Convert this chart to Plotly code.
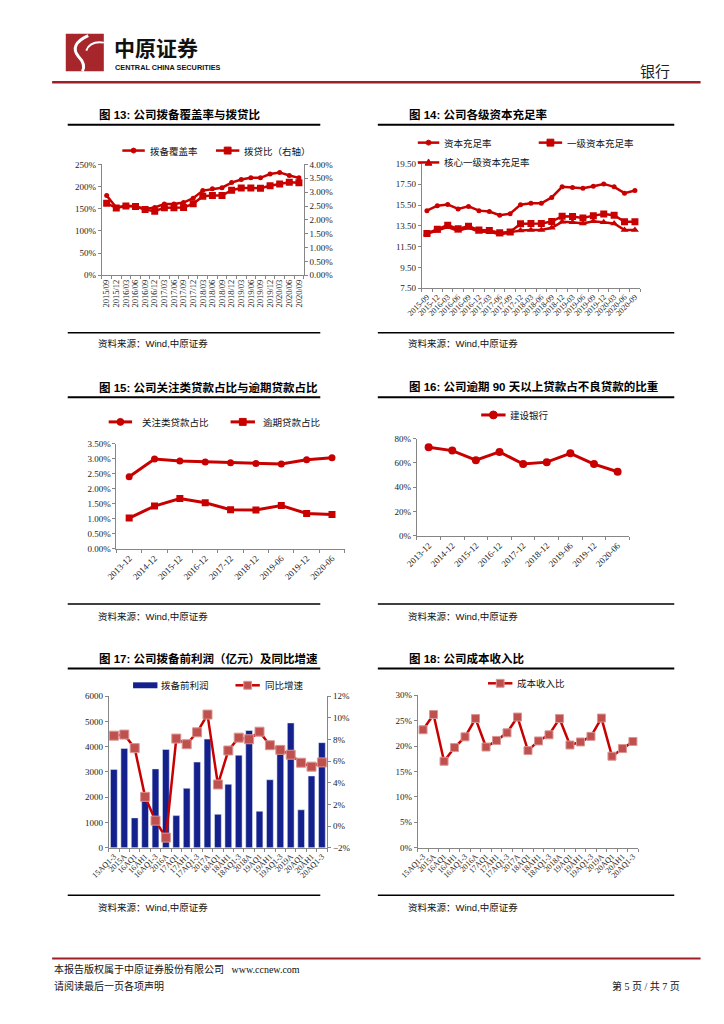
import plotly.graph_objects as go

W, H = 724, 1024

# ---------------- data ----------------
cats13 = ["2015/09", "2015/12", "2016/03", "2016/06", "2016/09", "2016/12", "2017/03",
          "2017/06", "2017/09", "2017/12", "2018/03", "2018/06", "2018/09", "2018/12",
          "2019/03", "2019/06", "2019/09", "2019/12", "2020/03", "2020/06", "2020/09"]
coverage = [179.7, 153, 156.8, 156, 149.4, 153, 161, 161, 164, 174, 191, 195, 197.5,
            209, 216, 219.7, 219.7, 228.5, 232, 225, 219.7]
loan_prov = [2.60, 2.43, 2.50, 2.48, 2.37, 2.31, 2.44, 2.44, 2.45, 2.58, 2.85, 2.88,
             2.88, 3.07, 3.15, 3.15, 3.14, 3.23, 3.29, 3.36, 3.34]

cats14 = ["2015-09", "2015-12", "2016-03", "2016-06", "2016-09", "2016-12", "2017-03",
          "2017-06", "2017-09", "2017-12", "2018-03", "2018-06", "2018-09", "2018-12",
          "2019-03", "2019-06", "2019-09", "2019-12", "2020-03", "2020-06", "2020-09"]
car = [14.96, 15.44, 15.56, 15.12, 15.37, 14.96, 14.87, 14.52, 14.67, 15.53, 15.66,
       15.66, 16.23, 17.25, 17.18, 17.12, 17.31, 17.53, 17.25, 16.64, 16.90]
tier1 = [12.77, 13.18, 13.56, 13.21, 13.47, 13.09, 13.06, 12.83, 12.90, 13.69, 13.72,
         13.72, 13.91, 14.42, 14.39, 14.26, 14.48, 14.64, 14.52, 13.88, 13.88]
core_tier1 = [12.74, 13.02, 13.37, 13.02, 13.34, 12.93, 12.96, 12.67, 12.83, 13.06, 13.09,
              13.09, 13.31, 13.88, 13.85, 13.72, 13.94, 13.85, 13.72, 13.09, 13.09]

cats15 = ["2013-12", "2014-12", "2015-12", "2016-12", "2017-12", "2018-12", "2019-06",
          "2019-12", "2020-06"]
special_mention = [2.40, 2.99, 2.92, 2.89, 2.86, 2.84, 2.82, 2.96, 3.03]
overdue = [1.02, 1.42, 1.67, 1.53, 1.30, 1.29, 1.44, 1.17, 1.14]

cats16 = cats15
overdue90_ratio = [72.9, 70.2, 62.3, 69.1, 59.1, 60.7, 68.0, 59.1, 52.8]

cats17 = ["15AQ1-3", "2015A", "16AQ1", "16AH1", "16AQ1-3", "2016A", "17AQ1", "17AH1",
          "17AQ1-3", "2017A", "18AQ1", "18AH1", "18AQ1-3", "2018A", "19AQ1", "19AH1",
          "19AQ1-3", "2019A", "20AQ1", "20AH1", "20AQ1-3"]
ppop = [3100, 3930, 1180, 1950, 3120, 3890, 1270, 2350, 3390, 4300, 1320, 2510, 3660,
        4640, 1440, 2690, 3800, 4940, 1500, 2840, 4160]
ppop_yoy = [8.35, 8.45, 7.2, 2.7, 0.5, -1.07, 8.08, 7.56, 8.66, 10.3, 3.84, 6.98, 8.17,
            8.02, 8.72, 7.47, 7.04, 6.59, 5.85, 5.49, 5.88]

cats18 = cats17
cost_income = [23.2, 26.2, 17.0, 19.7, 21.8, 25.4, 19.8, 21.1, 22.6, 25.7, 19.1, 21.0,
               22.2, 25.4, 20.2, 20.8, 21.9, 25.5, 18.0, 19.5, 20.9]

# ---------------- styling helpers ----------------
RED = "#C80000"
NAVY = "#14218C"
SQ_FILL = "#C0504D"
AX = "#868686"
TICKFONT = dict(family="Liberation Serif, Noto Sans CJK SC", size=9, color="#222")
CJK = "Noto Sans CJK SC"


def fx(x):
    return x / W


def fy(y):
    return 1 - y / H


def dom_x(a, b):
    return [fx(a), fx(b)]


def dom_y(top, bottom):
    return [fy(bottom), fy(top)]


def xaxis(a, b, anchor, angle, cats, size=8.5):
    return dict(domain=dom_x(a, b), anchor=anchor, type="category", showgrid=False,
                zeroline=False, showline=True, linecolor=AX, linewidth=1,
                ticks="outside", ticklen=3, tickcolor=AX, tickson="boundaries",
                tickmode="array", tickvals=cats, ticktext=cats,
                range=[-0.5, len(cats) - 0.5],
                tickangle=angle, tickfont=dict(TICKFONT, size=size), fixedrange=True)


def yaxis(top, bottom, anchor, rng, **kw):
    d = dict(domain=dom_y(top, bottom), anchor=anchor, range=rng, showgrid=False,
             zeroline=False, showline=True, linecolor=AX, linewidth=1,
             ticks="outside", ticklen=3, tickcolor=AX, tickfont=TICKFONT,
             fixedrange=True)
    d.update(kw)
    return d


fig = go.Figure()

# ---------------- chart 13 ----------------
fig.add_trace(go.Scatter(x=cats13, y=coverage, xaxis="x", yaxis="y", mode="lines+markers",
                         line=dict(color=RED, width=2.5),
                         marker=dict(symbol="circle", size=5, color=RED)))
fig.add_trace(go.Scatter(x=cats13, y=loan_prov, xaxis="x", yaxis="y2", mode="lines+markers",
                         line=dict(color=RED, width=2.5),
                         marker=dict(symbol="square", size=7, color=RED)))

# ---------------- chart 14 ----------------
for vals, sym, sz in [(car, "circle", 5), (tier1, "square", 7), (core_tier1, "triangle-up", 7)]:
    fig.add_trace(go.Scatter(x=cats14, y=vals, xaxis="x2", yaxis="y3", mode="lines+markers",
                             line=dict(color=RED, width=2.5),
                             marker=dict(symbol=sym, size=sz, color=RED)))

# ---------------- chart 15 ----------------
fig.add_trace(go.Scatter(x=cats15, y=special_mention, xaxis="x3", yaxis="y4",
                         mode="lines+markers", line=dict(color=RED, width=3),
                         marker=dict(symbol="circle", size=7, color=RED)))
fig.add_trace(go.Scatter(x=cats15, y=overdue, xaxis="x3", yaxis="y4",
                         mode="lines+markers", line=dict(color=RED, width=3),
                         marker=dict(symbol="square", size=7, color=RED)))

# ---------------- chart 16 ----------------
fig.add_trace(go.Scatter(x=cats16, y=overdue90_ratio, xaxis="x4", yaxis="y5",
                         mode="lines+markers", line=dict(color=RED, width=3),
                         marker=dict(symbol="circle", size=8, color=RED)))

# ---------------- chart 17 ----------------
fig.add_trace(go.Bar(x=cats17, y=ppop, xaxis="x5", yaxis="y6", marker_color=NAVY,
                     width=0.65))
fig.add_trace(go.Scatter(x=cats17, y=ppop_yoy, xaxis="x5", yaxis="y7", mode="lines+markers",
                         line=dict(color=RED, width=2.5),
                         marker=dict(symbol="square", size=9, color=SQ_FILL,
                                     line=dict(color="#D99694", width=1))))

# ---------------- chart 18 ----------------
fig.add_trace(go.Scatter(x=cats18, y=cost_income, xaxis="x6", yaxis="y8", mode="lines+markers",
                         line=dict(color=RED, width=2.5),
                         marker=dict(symbol="square", size=8, color=SQ_FILL,
                                     line=dict(color="#D99694", width=1))))

layout = dict(
    width=W, height=H, margin=dict(l=0, r=0, t=0, b=0), showlegend=False,
    paper_bgcolor="white", plot_bgcolor="white",
    xaxis=xaxis(86, 293, "y", -90, cats13),
    yaxis=yaxis(161, 273, "x", [0, 250], dtick=50, ticksuffix="%"),
    yaxis2=yaxis(161, 273, "x", [0, 4], overlaying="y", side="right", dtick=0.5,
                 tickformat=".2f", ticksuffix="%"),
    xaxis2=xaxis(414, 638, "y3", -45, cats14, 8),
    yaxis3=yaxis(160, 286, "x2", [7.5, 19.5],
                 tickvals=[7.5, 9.5, 11.5, 13.5, 15.5, 17.5, 19.5],
                 tickformat=".2f", ticksuffix="%"),
    xaxis3=xaxis(101, 335, "y4", -45, cats15, 9),
    yaxis4=yaxis(443, 549, "x3", [0, 3.5], dtick=0.5, tickformat=".2f", ticksuffix="%"),
    xaxis4=xaxis(409, 627, "y5", -45, cats16, 9),
    yaxis5=yaxis(438, 536, "x4", [0, 80], dtick=20, ticksuffix="%"),
    xaxis5=xaxis(93, 317, "y6", -45, cats17, 8),
    yaxis6=yaxis(698, 851, "x5", [0, 6000], dtick=1000),
    yaxis7=yaxis(698, 851, "x5", [-2, 12], overlaying="y6", side="right", dtick=2,
                 ticksuffix="%"),
    xaxis6=xaxis(410, 636, "y8", -45, cats18, 8),
    yaxis8=yaxis(697, 851, "x6", [0, 30], dtick=5, ticksuffix="%"),
)
fig.update_layout(**layout)

shapes = []
annotations = []


def hline(x0, x1, y, color="black", width=1.5):
    shapes.append(dict(type="line", xref="paper", yref="paper", x0=fx(x0), x1=fx(x1),
                       y0=fy(y), y1=fy(y), line=dict(color=color, width=width)))


def text(x, y, s, size=9.5, family=CJK, color="#111", xanchor="left", bold=False):
    if bold:
        s = "<b>" + s + "</b>"
    annotations.append(dict(xref="paper", yref="paper", x=fx(x), y=fy(y), text=s,
                            showarrow=False, xanchor=xanchor, yanchor="middle",
                            font=dict(family=family, size=size, color=color)))


def marker(cx, cy, kind, size, fill, edge=None):
    r = size / 2
    ln = dict(color=edge if edge else fill, width=1)
    if kind == "circle":
        shapes.append(dict(type="circle", xref="paper", yref="paper", x0=fx(cx - r),
                           x1=fx(cx + r), y0=fy(cy + r), y1=fy(cy - r),
                           fillcolor=fill, line=ln))
    elif kind == "square":
        shapes.append(dict(type="rect", xref="paper", yref="paper", x0=fx(cx - r),
                           x1=fx(cx + r), y0=fy(cy + r), y1=fy(cy - r),
                           fillcolor=fill, line=ln))
    elif kind == "triangle":
        p = "M %f %f L %f %f L %f %f Z" % (fx(cx - r), fy(cy + r * 0.8), fx(cx + r),
                                            fy(cy + r * 0.8), fx(cx), fy(cy - r))
        shapes.append(dict(type="path", xref="paper", yref="paper", path=p,
                           fillcolor=fill, line=ln))


def legend_item(x0, x1, y, kind, label, size, width=2.5, fill=RED, edge=None,
                tx=None):
    hline(x0, x1, y, RED, width)
    marker((x0 + x1) / 2, y, kind, size, fill, edge)
    text(tx if tx else x1 + 3, y, label, size=9.5)


# header
shapes.append(dict(type="rect", xref="paper", yref="paper", x0=fx(49), x1=fx(88),
                   y0=fy(67), y1=fy(29), fillcolor="#A6262C", line=dict(width=0)))
shapes.append(dict(type="path", xref="paper", yref="paper",
                   path="M %f %f Q %f %f %f %f Q %f %f %f %f" % (
                       fx(72), fy(31), fx(52), fy(40), fx(62), fy(52),
                       fx(70), fy(60), fx(66), fy(67)),
                   line=dict(color="white", width=3)))
shapes.append(dict(type="path", xref="paper", yref="paper",
                   path="M %f %f Q %f %f %f %f" % (fx(88), fy(38), fx(74), fy(36), fx(70), fy(46)),
                   line=dict(color="white", width=2)))
text(96, 42, "中原证券", size=21, family=CJK, color="#111", bold=True)
text(97, 63.5, "CENTRAL CHINA SECURITIES", size=7.3, family="Liberation Sans", color="#111",
     bold=True)
text(636, 66, "银行", size=15, family=CJK, color="#222")
hline(35, 700, 78, "#A01E28", 2.5)

# chart titles & frame lines
titles = [(81, 111, "图 13: 公司拨备覆盖率与拨贷比"),
          (399, 111, "图 14: 公司各级资本充足率"),
          (81, 386, "图 15: 公司关注类贷款占比与逾期贷款占比"),
          (399, 385, "图 16: 公司逾期 90 天以上贷款占不良贷款的比重"),
          (81, 660, "图 17: 公司拨备前利润（亿元）及同比增速"),
          (399, 660, "图 18: 公司成本收入比")]
for x, y, s in titles:
    text(x, y, s, size=11.5, family="Liberation Sans, " + CJK, color="#000", bold=True)

for y in (121, 396, 670):
    hline(51, 310, y, "black", 2)
    hline(369, 673, y, "black", 2)
for y, ty in ((331, 342), (605, 618), (899, 911)):
    hline(51, 310, y, "black", 1.5)
    hline(369, 673, y, "black", 1.5)
    text(80, ty, "资料来源：Wind,中原证券", size=9.5, family="Liberation Sans, " + CJK)
    text(398, ty, "资料来源：Wind,中原证券", size=9.5, family="Liberation Sans, " + CJK)

# legends
legend_item(107, 130, 147, "circle", "拨备覆盖率", 5)
legend_item(203, 227, 147, "square", "拨贷比（右轴）", 7)

legend_item(410, 432, 139, "circle", "资本充足率", 5)
legend_item(534, 558, 139, "square", "一级资本充足率", 7)
legend_item(410, 432, 159, "triangle", "核心一级资本充足率", 7)

legend_item(93, 117, 421, "circle", "关注类贷款占比", 7, 3, tx=125)
legend_item(218, 243, 421, "square", "逾期贷款占比", 7, 3, tx=249)

legend_item(475, 500, 414, "circle", "建设银行", 8, 3)

shapes.append(dict(type="rect", xref="paper", yref="paper", x0=fx(118), x1=fx(143),
                   y0=fy(690), y1=fy(684), fillcolor=NAVY, line=dict(width=0)))
text(145, 687, "拨备前利润", size=9.5)
legend_item(223, 248, 687, "square", "同比增速", 8, 2.5, fill=SQ_FILL, edge="#D99694")

legend_item(482, 507, 685, "square", "成本收入比", 8, 2.5, fill=SQ_FILL, edge="#D99694")

# footer
hline(35, 700, 963, "#A01E28", 2)
text(35, 974, "本报告版权属于中原证券股份有限公司 &nbsp; www.ccnew.com", size=10,
     family="Liberation Serif, " + CJK)
text(35, 991, "请阅读最后一页各项声明", size=10, family="Liberation Serif, " + CJK)
text(681, 991, "第 5 页 / 共 7 页", size=10, family="Liberation Serif, " + CJK,
     xanchor="right")

fig.update_layout(shapes=shapes, annotations=annotations)

fig.write_html("out.html", config={"displayModeBar": False},
               post_script="document.body.style.margin='0';")
